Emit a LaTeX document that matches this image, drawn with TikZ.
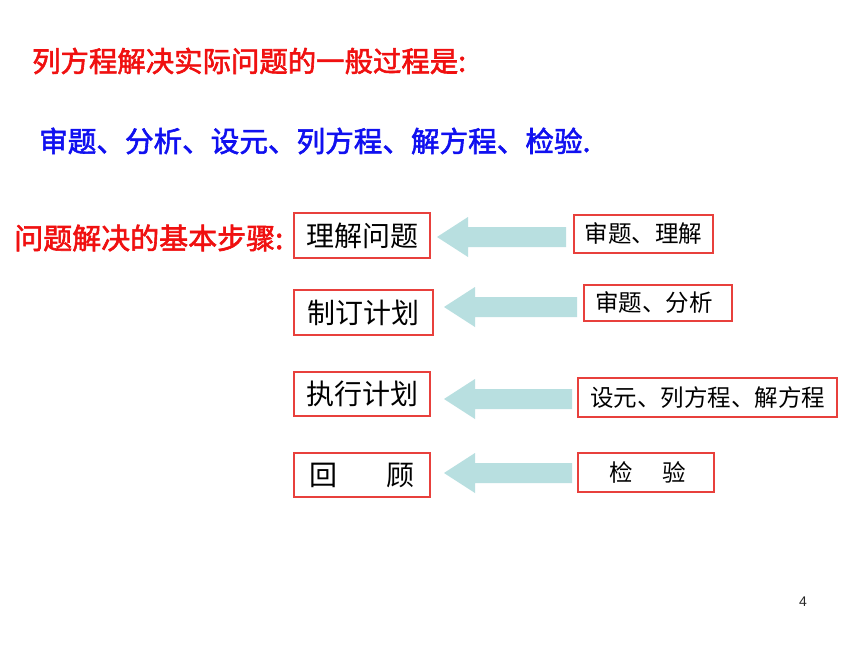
\documentclass[tikz,border=0pt]{standalone}
\usepackage{fontspec}
\setmainfont{Noto Sans CJK SC}
\newfontfamily\headfont[FakeBold=2]{Noto Sans CJK SC}
\newfontfamily\numfont{Liberation Sans}
\definecolor{boxred}{HTML}{E8403C}
\definecolor{arrowblue}{HTML}{B8DFE0}
\definecolor{titlered}{HTML}{F01010}
\definecolor{titleblue}{HTML}{1010F0}
\tikzset{
  lbox/.style={draw=boxred, line width=1.2pt, inner sep=0pt, font=\fontsize{28}{28}\selectfont, text=black, align=center},
  rbox/.style={draw=boxred, line width=1.2pt, inner sep=0pt, font=\fontsize{23.5}{23.5}\selectfont, text=black, align=center},
  blockarrow/.style={fill=arrowblue, draw=none},
  heading/.style={anchor=west, inner sep=0pt, font=\headfont\fontsize{28.4}{28.4}\selectfont, text=titlered}
}
\begin{document}
\begin{tikzpicture}[x=1pt, y=-1pt]
\useasboundingbox (0,0) rectangle (860,645);
\fill[white] (0,0) rectangle (860,645);
% headings
\node[heading] (t1) at (32,61) {列方程解决实际问题的一般过程是:};
\node[heading, text=titleblue, font=\headfont\fontsize{28.6}{28.6}\selectfont] (t2) at (39,141) {审题、分析、设元、列方程、解方程、检验.};
\node[heading, font=\headfont\fontsize{29}{29}\selectfont] (t3) at (14,238) {问题解决的基本步骤:};
% left boxes
\node[lbox, minimum width=136, minimum height=45] (l1) at (362,235.5) {理解问题};
\node[lbox, minimum width=139, minimum height=45] (l2) at (363.5,312.5) {制订计划};
\node[lbox, minimum width=136, minimum height=44] (l3) at (362,394) {执行计划};
\node[lbox, minimum width=136, minimum height=44] (l4) at (362,475) {回\hspace{49pt}顾};
% right boxes
\node[rbox, minimum width=139, minimum height=38] (r1) at (643.5,234) {审题、理解};
\node[rbox, minimum width=148, minimum height=36, text width=126, align=left] (r2) at (658,303) {审题、分析};
\node[rbox, minimum width=259, minimum height=39] (r3) at (707.5,397.5) {设元、列方程、解方程};
\node[rbox, minimum width=136, minimum height=39] (r4) at (646,472.5) {\hspace{4pt}检\hspace{30pt}验};
% block arrows
\fill[blockarrow] (437,237) -- (468,217) -- (468,227) -- (566,227) -- (566,247) -- (468,247) -- (468,257) -- cycle;
\fill[blockarrow] (444,307) -- (475,287) -- (475,297) -- (577,297) -- (577,317) -- (475,317) -- (475,327) -- cycle;
\fill[blockarrow] (444,399) -- (475,379) -- (475,389) -- (572,389) -- (572,409) -- (475,409) -- (475,419) -- cycle;
\fill[blockarrow] (444,473) -- (475,453) -- (475,463) -- (572,463) -- (572,483) -- (475,483) -- (475,493) -- cycle;
% page number
\node[inner sep=0pt, font=\numfont\fontsize{14}{14}\selectfont, text=black!85] (pn) at (803,602) {4};
\end{tikzpicture}
\end{document}
